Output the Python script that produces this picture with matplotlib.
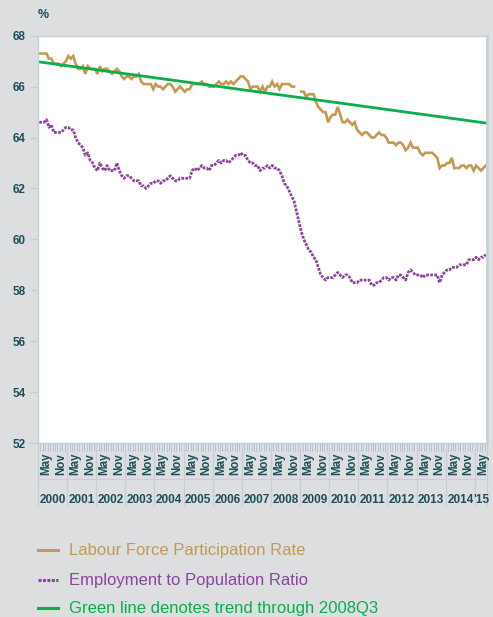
import numpy as np
import matplotlib.pyplot as plt
from matplotlib.lines import Line2D

# monthly values, Jan 2000 .. May 2015
lfpr = [
    67.3, 67.3, 67.3, 67.3, 67.1, 67.1, 66.9, 66.9, 66.9, 66.8, 66.9, 67.0,   # 2000
    67.2, 67.1, 67.2, 66.9, 66.7, 66.7, 66.8, 66.5, 66.8, 66.7, 66.7, 66.7,   # 2001
    66.5, 66.8, 66.6, 66.7, 66.7, 66.6, 66.5, 66.6, 66.7, 66.6, 66.4, 66.3,   # 2002
    66.4, 66.4, 66.3, 66.4, 66.4, 66.5, 66.2, 66.1, 66.1, 66.1, 66.1, 65.9,   # 2003
    66.1, 66.0, 66.0, 65.9, 66.0, 66.1, 66.1, 66.0, 65.8, 65.9, 66.0, 65.9,   # 2004
    65.8, 65.9, 65.9, 66.1, 66.1, 66.1, 66.1, 66.2, 66.1, 66.1, 66.0, 66.0,   # 2005
    66.0, 66.1, 66.2, 66.1, 66.1, 66.2, 66.1, 66.2, 66.1, 66.2, 66.3, 66.4,   # 2006
    66.4, 66.3, 66.2, 65.9, 66.0, 66.0, 66.0, 65.8, 66.0, 65.8, 66.0, 66.0,   # 2007
    66.2, 66.0, 66.1, 65.9, 66.1, 66.1, 66.1, 66.1, 66.0, 66.0, np.nan, np.nan,  # 2008
    65.8, 65.8, 65.6, 65.7, 65.7, 65.7, 65.4, 65.2, 65.1, 65.0, 65.0, 64.6,   # 2009
    64.8, 64.9, 64.9, 65.2, 64.9, 64.6, 64.6, 64.7, 64.6, 64.5, 64.6, 64.3,   # 2010
    64.2, 64.1, 64.2, 64.2, 64.1, 64.0, 64.0, 64.1, 64.2, 64.1, 64.1, 64.0,   # 2011
    63.8, 63.8, 63.8, 63.7, 63.8, 63.8, 63.7, 63.5, 63.6, 63.8, 63.6, 63.6,   # 2012
    63.6, 63.4, 63.3, 63.4, 63.4, 63.4, 63.4, 63.3, 63.2, 62.8, 62.9, 62.9,   # 2013
    63.0, 63.0, 63.2, 62.8, 62.8, 62.8, 62.9, 62.9, 62.8, 62.9, 62.9, 62.7,   # 2014
    62.9, 62.8, 62.7, 62.8, 62.9,                                             # 2015
]
epop = [
    64.6, 64.6, 64.6, 64.7, 64.4, 64.5, 64.2, 64.2, 64.2, 64.2, 64.3, 64.4,   # 2000
    64.4, 64.3, 64.3, 64.0, 63.8, 63.7, 63.6, 63.3, 63.4, 63.1, 63.0, 62.8,   # 2001
    62.7, 63.0, 62.8, 62.7, 62.9, 62.7, 62.7, 62.7, 63.0, 62.7, 62.5, 62.4,   # 2002
    62.5, 62.5, 62.4, 62.3, 62.3, 62.3, 62.1, 62.1, 62.0, 62.1, 62.2, 62.2,   # 2003
    62.3, 62.3, 62.2, 62.3, 62.3, 62.4, 62.5, 62.4, 62.3, 62.3, 62.4, 62.4,   # 2004
    62.4, 62.4, 62.4, 62.7, 62.8, 62.7, 62.8, 62.9, 62.8, 62.8, 62.7, 62.9,   # 2005
    62.9, 63.0, 63.1, 63.0, 63.1, 63.1, 63.0, 63.1, 63.2, 63.3, 63.3, 63.4,   # 2006
    63.3, 63.3, 63.1, 63.0, 63.0, 62.9, 62.9, 62.7, 62.8, 62.8, 62.9, 62.8,   # 2007
    62.9, 62.8, 62.8, 62.7, 62.5, 62.2, 62.1, 61.9, 61.7, 61.5, 61.1, 60.7,   # 2008
    60.3, 60.0, 59.8, 59.6, 59.5, 59.3, 59.2, 58.9, 58.6, 58.5, 58.4, 58.5,   # 2009
    58.5, 58.5, 58.6, 58.7, 58.6, 58.5, 58.6, 58.6, 58.5, 58.3, 58.3, 58.3,   # 2010
    58.4, 58.4, 58.4, 58.4, 58.4, 58.2, 58.2, 58.3, 58.3, 58.4, 58.5, 58.5,   # 2011
    58.4, 58.5, 58.5, 58.4, 58.6, 58.6, 58.5, 58.4, 58.7, 58.8, 58.7, 58.6,   # 2012
    58.6, 58.6, 58.5, 58.6, 58.6, 58.6, 58.6, 58.6, 58.6, 58.3, 58.6, 58.7,   # 2013
    58.8, 58.8, 58.9, 58.9, 58.9, 59.0, 59.0, 59.0, 59.0, 59.2, 59.2, 59.2,   # 2014
    59.3, 59.2, 59.3, 59.3, 59.4,                                             # 2015
]
# trend through 2008Q3, value at first and last month
trend_ends = [66.97, 64.57]

years = [str(y) for y in range(2000, 2015)] + ["'15"]
month_labels = {4: "May", 10: "Nov"}
y_ticks = [52, 54, 56, 58, 60, 62, 64, 66, 68]

legend_labels = ["Labour Force Participation Rate",
                 "Employment to Population Ratio",
                 "Green line denotes trend through 2008Q3"]

C_LF = "#c49a52"
C_EP = "#8b459d"
C_TR = "#0aae4c"
C_TXT = "#1d4f5b"
C_GRID = "#c2d0d7"
BG = "#dcdee0"

plt.rcParams['font.family'] = ['Liberation Sans', 'DejaVu Sans']

n = len(lfpr)
m = np.arange(n)

fig = plt.figure(figsize=(4.93, 6.17), dpi=100, facecolor=BG)
ax = fig.add_axes([38 / 493, 1 - 443 / 617, 449 / 493, 407.3 / 617])
ax.set_facecolor("white")

ax.plot(m, lfpr, color=C_LF, lw=1.9, solid_joinstyle="miter")
ax.plot(m, epop, color=C_EP, lw=2.0, linestyle=(0, (1.0, 0.45)), dash_capstyle="butt")
ax.axline((0, trend_ends[0]), (n - 1, trend_ends[1]), color=C_TR, lw=2.0)

ax.set_xlim(-0.5, n - 0.5)
ax.set_ylim(52, 68)
ax.set_yticks(y_ticks)
ax.tick_params(axis="y", length=6, width=1, color=C_GRID, labelcolor=C_TXT,
               labelsize=8.5, pad=3)
for t in ax.get_yticklabels():
    t.set_fontweight("bold")

ax.set_xticks([])
ax.set_xticks(np.arange(n + 1) - 0.5, minor=True)
ax.tick_params(axis="x", which="minor", length=5.5, width=0.7, color="#b5c5cd")

for s in ["left", "top", "bottom"]:
    ax.spines[s].set_color(C_GRID)
    ax.spines[s].set_linewidth(1.0)
ax.spines["right"].set_color(C_GRID)
ax.spines["right"].set_linewidth(2.0)

tr = ax.get_xaxis_transform()
h = 407.3
for i in range(n):
    mo = i % 12
    if mo in month_labels:
        ax.text(i - 1.1, -(464 - 443) / h, month_labels[mo], transform=tr,
                rotation=90, ha="center", va="center", fontsize=8.3,
                fontweight="bold", color=C_TXT, clip_on=False)

for k, lab in enumerate(years):
    start = 12 * k - 0.5
    end = min(12 * (k + 1), n) - 0.5
    ax.text((start + end) / 2, -(500 - 443) / h, lab, transform=tr, ha="center",
            va="center", fontsize=8.5, fontweight="bold", color=C_TXT, clip_on=False)
    ax.add_line(Line2D([start, start], [0, -(505 - 443) / h], transform=tr,
                       color=C_GRID, lw=0.9, clip_on=False))
ax.add_line(Line2D([n - 0.5, n - 0.5], [0, -(505 - 443) / h], transform=tr,
                   color=C_GRID, lw=0.9, clip_on=False))
ax.add_line(Line2D([-0.5, n - 0.5], [-(479 - 443) / h] * 2, transform=tr,
                   color=C_GRID, lw=0.9, clip_on=False))

fig.text(38 / 493, 1 - 15.5 / 617, "%", ha="left", va="center", fontsize=9,
         fontweight="bold", color=C_TXT)

# legend drawn by hand at the bottom
rows = [550, 580, 608]
styles = [dict(color=C_LF, lw=2.2),
          dict(color=C_EP, lw=2.2, linestyle=(0, (1.0, 0.45)), dash_capstyle="butt"),
          dict(color=C_TR, lw=2.2)]
for yy, lab, st in zip(rows, legend_labels, styles):
    fy = 1 - yy / 617
    fig.add_artist(Line2D([38 / 493, 58 / 493], [fy, fy], transform=fig.transFigure, **st))
    fig.text(69 / 493, fy, lab, ha="left", va="center", fontsize=12, color=st["color"])

fig.savefig("out.png", dpi=100, facecolor=BG)
